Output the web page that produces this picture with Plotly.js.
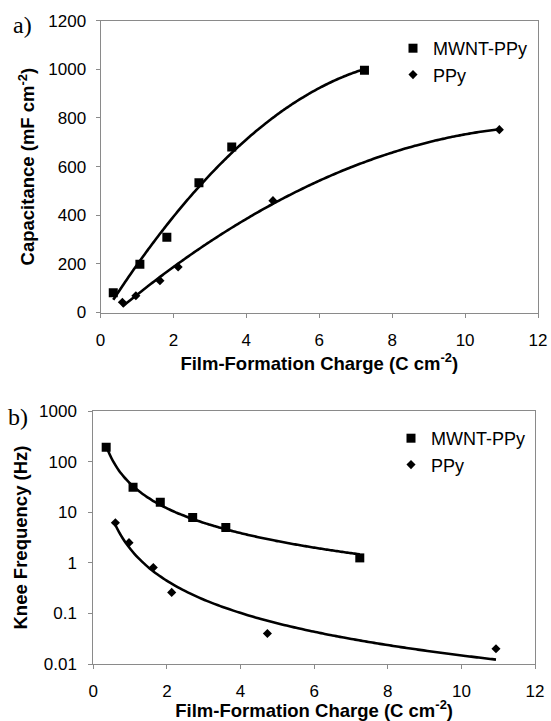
<!DOCTYPE html>
<html><head><meta charset="utf-8">
<script src="https://cdn.plot.ly/plotly-3.0.1.min.js"></script>
<style>html,body{margin:0;padding:0;background:#fff}#chart{width:551px;height:721px}</style>
</head><body><div id="chart"></div>
<script>
// ---- data ----
const seriesNames = ['MWNT-PPy', 'PPy'];
const mwntCharge = [0.35, 1.08, 1.82, 2.70, 3.60, 7.24];
const ppyCharge = [0.60, 0.97, 1.63, 2.13, 4.73, 10.94];
const mwntCapacitance = [81, 198, 309, 534, 681, 996];
const ppyCapacitance = [42, 69, 131, 187, 460, 752];
const mwntKnee = [192, 31, 15.7, 7.9, 5.0, 1.25];
const ppyKnee = [6.2, 2.5, 0.81, 0.26, 0.04, 0.02];
const xTickVals = [0, 2, 4, 6, 8, 10, 12];
const capTickVals = [0, 200, 400, 600, 800, 1000, 1200];
const logTickVals = [0.01, 0.1, 1, 10, 100, 1000];
const logTickText = ['0.01', '0.1', '1', '10', '100', '1000'];

// ---- trendlines fitted from the data (as in the original) ----
function quadFit(x, y) {
  const S = [0,0,0,0,0], T = [0,0,0];
  x.forEach((xi, i) => {
    for (let k = 0; k < 5; k++) S[k] += Math.pow(xi, k);
    for (let k = 0; k < 3; k++) T[k] += y[i] * Math.pow(xi, k);
  });
  const M = [[S[0],S[1],S[2],T[0]],[S[1],S[2],S[3],T[1]],[S[2],S[3],S[4],T[2]]];
  for (let c = 0; c < 3; c++) {
    for (let r = c + 1; r < 3; r++) {
      const f = M[r][c] / M[c][c];
      for (let k = c; k < 4; k++) M[r][k] -= f * M[c][k];
    }
  }
  const s = [0,0,0];
  for (let r = 2; r >= 0; r--) {
    let v = M[r][3];
    for (let k = r + 1; k < 3; k++) v -= M[r][k] * s[k];
    s[r] = v / M[r][r];
  }
  return xv => s[0] + s[1]*xv + s[2]*xv*xv;
}
function powFit(x, y) {
  const lx = x.map(Math.log), ly = y.map(Math.log);
  const n = lx.length;
  const mx = lx.reduce((a,b)=>a+b,0)/n, my = ly.reduce((a,b)=>a+b,0)/n;
  let sxy = 0, sxx = 0;
  for (let i = 0; i < n; i++) { sxy += (lx[i]-mx)*(ly[i]-my); sxx += (lx[i]-mx)*(lx[i]-mx); }
  const b = sxy / sxx, a = Math.exp(my - b*mx);
  return xv => a * Math.pow(xv, b);
}
function curve(xs, f) {
  const x0 = Math.min(...xs), x1 = Math.max(...xs), n = 100;
  const cx = [], cy = [];
  for (let i = 0; i <= n; i++) { const v = x0 + (x1 - x0) * i / n; cx.push(v); cy.push(f(v)); }
  return {x: cx, y: cy};
}

const cMwntTop = curve(mwntCharge, quadFit(mwntCharge, mwntCapacitance));
const cPpyTop = curve(ppyCharge, quadFit(ppyCharge, ppyCapacitance));
const cMwntBot = curve(mwntCharge, powFit(mwntCharge, mwntKnee));
const cPpyBot = curve(ppyCharge, powFit(ppyCharge, ppyKnee));

const lineStyle = {color: '#000', width: 2.6, shape: 'spline'};
const sq = {symbol: 'square', size: 9, color: '#000'};
const dm = {symbol: 'diamond', size: 7, color: '#000'};

const traces = [
  {x: cMwntTop.x, y: cMwntTop.y, mode: 'lines', line: lineStyle, xaxis: 'x', yaxis: 'y', showlegend: false, hoverinfo: 'skip'},
  {x: cPpyTop.x, y: cPpyTop.y, mode: 'lines', line: lineStyle, xaxis: 'x', yaxis: 'y', showlegend: false, hoverinfo: 'skip'},
  {x: mwntCharge, y: mwntCapacitance, mode: 'markers', marker: sq, name: seriesNames[0], xaxis: 'x', yaxis: 'y', legend: 'legend'},
  {x: ppyCharge, y: ppyCapacitance, mode: 'markers', marker: dm, name: seriesNames[1], xaxis: 'x', yaxis: 'y', legend: 'legend'},
  {x: cMwntBot.x, y: cMwntBot.y, mode: 'lines', line: lineStyle, xaxis: 'x2', yaxis: 'y2', showlegend: false, hoverinfo: 'skip'},
  {x: cPpyBot.x, y: cPpyBot.y, mode: 'lines', line: lineStyle, xaxis: 'x2', yaxis: 'y2', showlegend: false, hoverinfo: 'skip'},
  {x: mwntCharge, y: mwntKnee, mode: 'markers', marker: sq, name: seriesNames[0], xaxis: 'x2', yaxis: 'y2', legend: 'legend2'},
  {x: ppyCharge, y: ppyKnee, mode: 'markers', marker: dm, name: seriesNames[1], xaxis: 'x2', yaxis: 'y2', legend: 'legend2'}
];

const W = 551, H = 721;
const px = v => v / W, py = v => 1 - v / H;
const FONT = 'Liberation Sans, Arial, Helvetica, sans-serif';
const axisBase = {
  showline: true, linecolor: '#8a8a8a', linewidth: 1, mirror: true,
  ticks: 'outside', ticklen: 4, tickcolor: '#8a8a8a', tickwidth: 1,
  showgrid: false, zeroline: false, automargin: false,
  tickfont: {family: FONT, size: 17, color: '#000'}
};
const titleFont = {family: FONT, size: 18.5, color: '#000'};
const xTitle = {text: '<b>Film-Formation Charge (C cm<sup>-2</sup>)</b>', font: titleFont, standoff: 2};

const layout = {
  width: W, height: H,
  margin: {l: 0, r: 0, t: 0, b: 0},
  paper_bgcolor: '#fff', plot_bgcolor: '#fff',
  font: {family: FONT, color: '#000', size: 17},
  xaxis: Object.assign({}, axisBase, {domain: [px(100.5), px(538)], anchor: 'y', range: [0, 12], tickvals: xTickVals, ticklabelstandoff: 8, title: xTitle}),
  yaxis: Object.assign({}, axisBase, {domain: [py(312.5), py(20.7)], anchor: 'x', range: [0, 1200], tickvals: capTickVals, ticklabelstandoff: 6,
    title: {text: '<b>Capacitance (mF cm<sup>-2</sup>)</b>', font: titleFont, standoff: 8}}),
  xaxis2: Object.assign({}, axisBase, {domain: [px(93.3), px(535)], anchor: 'y2', range: [0, 12], tickvals: xTickVals, ticklabelstandoff: 8, title: xTitle}),
  yaxis2: Object.assign({}, axisBase, {domain: [py(664), py(411)], anchor: 'x2', type: 'log', range: [-2, 3], tickvals: logTickVals, ticktext: logTickText, ticklabelstandoff: 8,
    title: {text: '<b>Knee Frequency (Hz)</b>', font: titleFont, standoff: 6}}),
  legend: {x: px(393), y: py(30), xanchor: 'left', yanchor: 'top', bgcolor: 'rgba(0,0,0,0)', font: {family: FONT, size: 18, color: '#000'}, tracegroupgap: 0},
  legend2: {x: px(391), y: py(420), xanchor: 'left', yanchor: 'top', bgcolor: 'rgba(0,0,0,0)', font: {family: FONT, size: 18, color: '#000'}, tracegroupgap: 0},
  annotations: [
    {text: 'a)', xref: 'paper', yref: 'paper', x: px(11), y: py(25), xanchor: 'left', yanchor: 'middle', showarrow: false, font: {family: 'Liberation Serif, Times New Roman, serif', size: 24, color: '#000'}},
    {text: 'b)', xref: 'paper', yref: 'paper', x: px(6), y: py(417), xanchor: 'left', yanchor: 'middle', showarrow: false, font: {family: 'Liberation Serif, Times New Roman, serif', size: 24, color: '#000'}}
  ]
};

Plotly.newPlot('chart', traces, layout, {staticPlot: true, displayModeBar: false});
</script>
</body></html>
